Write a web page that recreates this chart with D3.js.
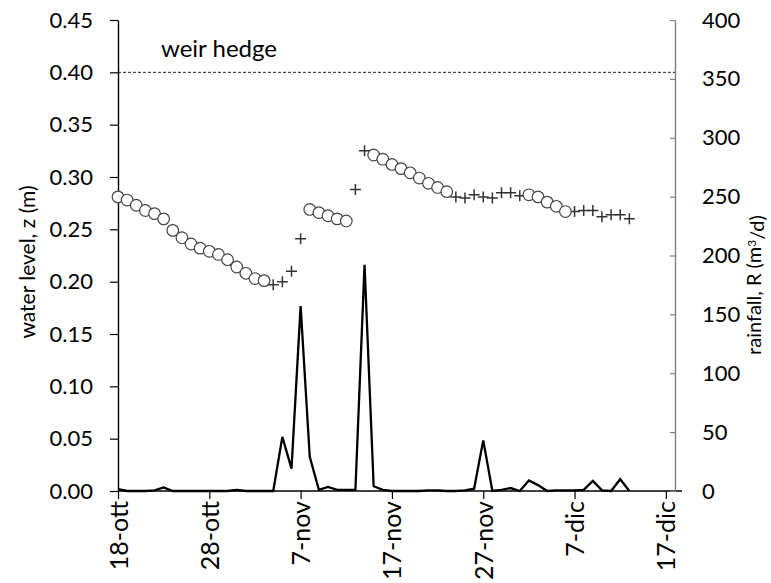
<!DOCTYPE html>
<html>
<head>
<meta charset="utf-8">
<script src="https://cdn.jsdelivr.net/npm/d3@7"></script>
<style>
  body { margin: 0; background: #fff; }
  text { font-family: Lato, "Open Sans", sans-serif; fill: #000; }
</style>
</head>
<body>
<div id="chart"></div>
<script>
// ---- data (day offsets counted from 18-ott) ----
var startDate = new Date(2014, 9, 18);
var tickDays = [0, 10, 20, 30, 40, 50, 60];
var tickLabels = ["18-ott", "28-ott", "7-nov", "17-nov", "27-nov", "7-dic", "17-dic"];
var levelTicks = [0, 0.05, 0.10, 0.15, 0.20, 0.25, 0.30, 0.35, 0.40, 0.45];
var rainTicks = [0, 50, 100, 150, 200, 250, 300, 350, 400];

// measured water level (circles)
var obsDays  = [0, 1, 2, 3, 4, 5, 6, 7, 8, 9, 10, 11, 12, 13, 14, 15, 16,
                21, 22, 23, 24, 25,
                28, 29, 30, 31, 32, 33, 34, 35, 36,
                45, 46, 47, 48, 49];
var obsLevel = [0.281, 0.278, 0.273, 0.268, 0.265, 0.260, 0.249, 0.242, 0.236, 0.232, 0.229, 0.226, 0.221, 0.214, 0.208, 0.203, 0.201,
                0.269, 0.266, 0.263, 0.260, 0.258,
                0.321, 0.317, 0.312, 0.308, 0.304, 0.299, 0.294, 0.290, 0.286,
                0.283, 0.281, 0.276, 0.272, 0.267];

// other water level points (crosses)
var estDays  = [17, 18, 19, 20, 26, 27,
                37, 38, 39, 40, 41, 42, 43, 44,
                50, 51, 52, 53, 54, 55, 56];
var estLevel = [0.197, 0.200, 0.210, 0.241, 0.288, 0.325,
                0.281, 0.280, 0.283, 0.281, 0.280, 0.285, 0.285, 0.282,
                0.267, 0.268, 0.268, 0.262, 0.264, 0.264, 0.260];

// daily rainfall, one value per day starting 18-ott
var rainfall = [1.5, 0, 0, 0, 0.5, 3, 0, 0, 0, 0, 0, 0, 0, 1, 0, 0, 0, 0,
                46, 19, 157, 29, 1, 3.5, 1, 1, 1, 192, 4, 1,
                0, 0, 0, 0, 0.5, 0.5, 0, 0, 0.5, 2, 43, 0, 1, 2.5, 0,
                9, 5, 0, 0.5, 0.5, 0.5, 1, 8.5, 0.5, 0, 10, 0];

var weirLevel = 0.40;
var weirLabel = "weir hedge";

// ---- layout ----
var margin = { top: 20, right: 96, bottom: 92, left: 118 };
var W = 771, H = 583;
var width = W - margin.left - margin.right;
var height = H - margin.top - margin.bottom;

function dayDate(d) { return d3.timeDay.offset(startDate, d); }

var svg = d3.select("#chart").append("svg")
    .attr("width", W)
    .attr("height", H);

var g = svg.append("g")
    .attr("transform", "translate(" + margin.left + "," + margin.top + ")");

// scales
var x = d3.scaleTime()
    .domain([startDate, dayDate(61)])
    .range([0, width]);

var y = d3.scaleLinear()
    .domain([0, 0.45])
    .range([height, 0]);

var yR = d3.scaleLinear()
    .domain([0, 400])
    .range([height, 0]);

// weir hedge line
g.append("line")
    .attr("x1", 0)
    .attr("x2", width)
    .attr("y1", y(weirLevel))
    .attr("y2", y(weirLevel))
    .attr("stroke", "#222")
    .attr("stroke-width", 1)
    .attr("stroke-dasharray", "3,2");

g.append("text")
    .attr("x", 43)
    .attr("y", y(weirLevel) - 15)
    .style("font-size", "24px")
    .text(weirLabel);

// rainfall line
var rainLine = d3.line()
    .x(function(d, i) { return x(dayDate(i)); })
    .y(function(d) { return yR(d); });

g.append("path")
    .datum(rainfall)
    .attr("d", rainLine)
    .attr("fill", "none")
    .attr("stroke", "#000")
    .attr("stroke-width", 2.3)
    .attr("stroke-linejoin", "miter");

// axes
var xAxis = d3.axisBottom(x)
    .tickValues(tickDays.map(dayDate))
    .tickFormat(function(d, i) { return tickLabels[i]; })
    .tickSizeInner(8)
    .tickSizeOuter(0);

var gx = g.append("g")
    .attr("transform", "translate(0," + height + ")")
    .call(xAxis);
gx.select(".domain").remove();
gx.selectAll(".tick line").attr("stroke", "#000").attr("stroke-width", 1.2);
gx.selectAll(".tick text")
    .attr("transform", "rotate(-90)")
    .attr("x", -10)
    .attr("y", 0)
    .attr("dy", "0.36em")
    .style("text-anchor", "end")
    .style("font-size", "25px")
    .style("font-family", "Lato, sans-serif");
gx.append("line")
    .attr("x1", 0)
    .attr("x2", width + 7)
    .attr("stroke", "#000")
    .attr("stroke-width", 1.4);

var yAxis = d3.axisLeft(y)
    .tickValues(levelTicks)
    .tickFormat(d3.format(".2f"))
    .tickSizeInner(8)
    .tickSizeOuter(0)
    .tickPadding(17);

var gy = g.append("g").call(yAxis);
gy.select(".domain").attr("stroke", "#000").attr("stroke-width", 1.4);
gy.selectAll(".tick line").attr("stroke", "#000").attr("stroke-width", 1.2);
gy.selectAll(".tick text")
    .style("font-size", "22px")
    .style("font-family", "Lato, sans-serif");

var yRAxis = d3.axisRight(yR)
    .tickValues(rainTicks)
    .tickSizeInner(-5)
    .tickSizeOuter(0)
    .tickPadding(27);

var gyR = g.append("g")
    .attr("transform", "translate(" + width + ",0)")
    .call(yRAxis);
gyR.select(".domain").attr("stroke", "#808080").attr("stroke-width", 1.4);
gyR.selectAll(".tick line").attr("stroke", "#808080").attr("stroke-width", 1.2);
gyR.selectAll(".tick text")
    .style("font-size", "22px")
    .style("font-family", "Lato, sans-serif");

// axis titles
g.append("text")
    .attr("transform", "translate(" + (28 - margin.left) + "," + 242 + ") rotate(-90)")
    .attr("text-anchor", "middle")
    .attr("dy", "0.35em")
    .style("font-size", "21px")
    .text("water level, z (m)");

var rt = g.append("text")
    .attr("transform", "translate(" + (754 - margin.left) + "," + 265 + ") rotate(-90)")
    .attr("text-anchor", "middle")
    .attr("dy", "0.35em")
    .style("font-size", "20px");
rt.append("tspan").text("rainfall, R (m");
rt.append("tspan").attr("dy", "-0.4em").style("font-size", "12px").text("3");
rt.append("tspan").attr("dy", "0.4em").text("/d)");

// crosses
var cs = 5.5;
g.selectAll(".cross")
    .data(estDays.map(function(d, i) { return { day: d, z: estLevel[i] }; }))
    .enter()
    .append("path")
    .attr("class", "cross")
    .attr("transform", function(d) { return "translate(" + x(dayDate(d.day)) + "," + y(d.z) + ")"; })
    .attr("d", "M" + (-cs) + ",0H" + cs + "M0," + (-cs) + "V" + cs)
    .attr("stroke", "#333")
    .attr("stroke-width", 1.5)
    .attr("fill", "none");

// circles
g.selectAll(".obs")
    .data(obsDays.map(function(d, i) { return { day: d, z: obsLevel[i] }; }))
    .enter()
    .append("circle")
    .attr("class", "obs")
    .attr("cx", function(d) { return x(dayDate(d.day)); })
    .attr("cy", function(d) { return y(d.z); })
    .attr("r", 5.8)
    .attr("fill", "#fff")
    .attr("stroke", "#444")
    .attr("stroke-width", 1.2);
</script>
</body>
</html>
